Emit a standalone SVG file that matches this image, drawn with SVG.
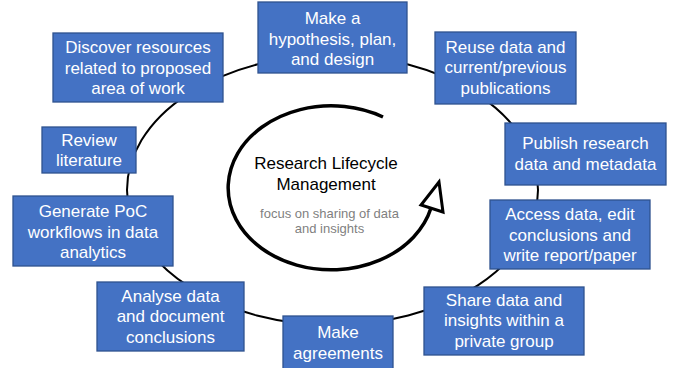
<svg xmlns="http://www.w3.org/2000/svg" width="681" height="368" viewBox="0 0 681 368">
<style>
.box{fill:#4472C4;stroke:#2F528F;stroke-width:1.3}
.t{font-family:"Liberation Sans",Arial,sans-serif;font-size:17px;fill:#ffffff;text-anchor:middle}
.c{font-family:"Liberation Sans",Arial,sans-serif;font-size:17px;fill:#000000;text-anchor:middle}
.s{font-family:"Liberation Sans",Arial,sans-serif;font-size:13px;fill:#7f7f7f;text-anchor:middle}
</style>
<rect width="681" height="368" fill="#ffffff"/>
<g id="connectors">
<ellipse cx="332.5" cy="190" rx="205.5" ry="135" fill="none" stroke="#000" stroke-width="2"/>
</g>
<g id="cycle">
<path d="M383 117 A103 82 0 1 0 431 208" fill="none" stroke="#000" stroke-width="3.5"/>
<polygon points="439,182 421,205 443,212" fill="#fff" stroke="#000" stroke-width="3" stroke-linejoin="miter"/>
</g>
<g id="center">
<text class="c" x="326" y="169">Research Lifecycle</text>
<text class="c" x="326" y="190">Management</text>
<text class="s" x="329.5" y="217.5">focus on sharing of data</text>
<text class="s" x="329.5" y="233">and insights</text>
</g>
<g id="discover">
<rect class="box" x="53" y="33" width="170" height="69"/>
<text class="t" x="138" y="53">Discover resources</text>
<text class="t" x="138" y="73.5">related to proposed</text>
<text class="t" x="138" y="94">area of work</text>
</g>
<g id="hypothesis">
<rect class="box" x="258" y="2" width="149" height="71"/>
<text class="t" x="332.5" y="24">Make a</text>
<text class="t" x="332.5" y="45">hypothesis, plan,</text>
<text class="t" x="332.5" y="65">and design</text>
</g>
<g id="reuse">
<rect class="box" x="435" y="32" width="141" height="72"/>
<text class="t" x="505.5" y="52.5">Reuse data and</text>
<text class="t" x="505.5" y="73">current/previous</text>
<text class="t" x="505.5" y="93.5">publications</text>
</g>
<g id="publish">
<rect class="box" x="505" y="123" width="161" height="62"/>
<text class="t" x="585.5" y="149">Publish research</text>
<text class="t" x="585.5" y="169.5">data and metadata</text>
</g>
<g id="access">
<rect class="box" x="490" y="200" width="160" height="69"/>
<text class="t" x="570" y="220">Access data, edit</text>
<text class="t" x="570" y="240.5">conclusions and</text>
<text class="t" x="570" y="261">write report/paper</text>
</g>
<g id="share">
<rect class="box" x="424" y="287" width="160" height="68"/>
<text class="t" x="504" y="305.5">Share data and</text>
<text class="t" x="504" y="326">insights within a</text>
<text class="t" x="504" y="346.5">private group</text>
</g>
<g id="agreements">
<rect class="box" x="283" y="316" width="110" height="56"/>
<text class="t" x="338" y="338">Make</text>
<text class="t" x="338" y="358.5">agreements</text>
</g>
<g id="analyse">
<rect class="box" x="97" y="282" width="147" height="69"/>
<text class="t" x="170.5" y="301.5">Analyse data</text>
<text class="t" x="170.5" y="322">and document</text>
<text class="t" x="170.5" y="342.5">conclusions</text>
</g>
<g id="generate">
<rect class="box" x="13" y="196" width="160" height="70"/>
<text class="t" x="93" y="217">Generate PoC</text>
<text class="t" x="93" y="237.5">workflows in data</text>
<text class="t" x="93" y="258">analytics</text>
</g>
<g id="review">
<rect class="box" x="42" y="127" width="94" height="46"/>
<text class="t" x="89" y="146">Review</text>
<text class="t" x="89" y="166">literature</text>
</g>
</svg>
